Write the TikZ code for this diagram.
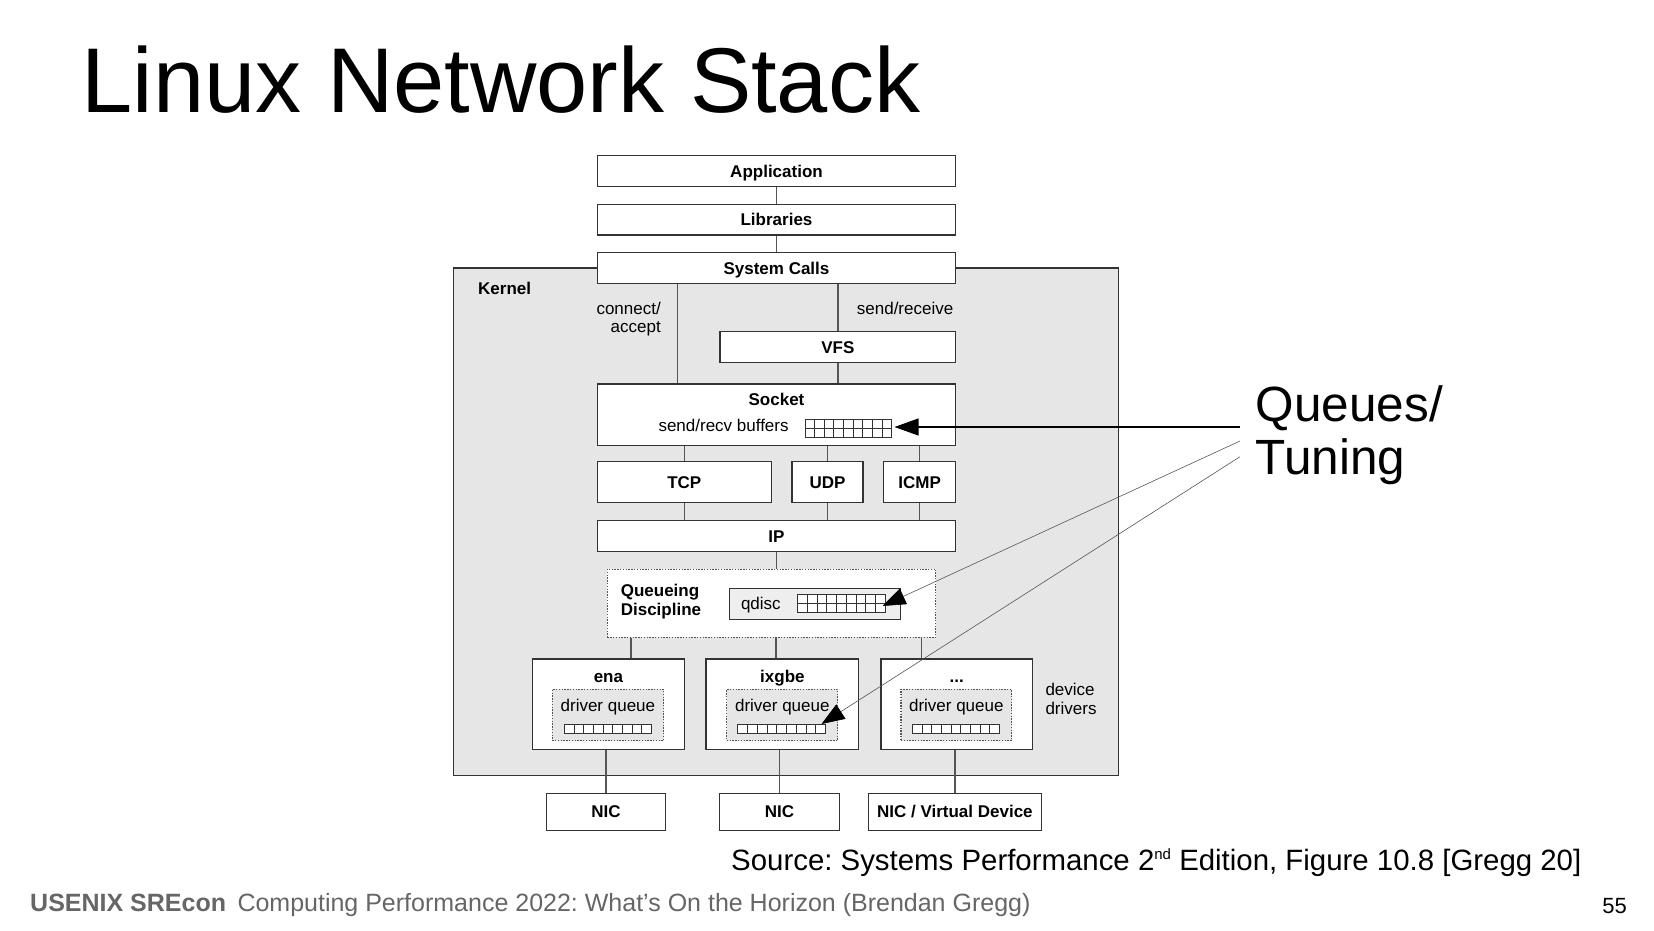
\documentclass[tikz,border=0pt]{standalone}
\usepackage{fontspec}
\setmainfont{Liberation Sans}
\usetikzlibrary{arrows.meta}
\definecolor{kgray}{HTML}{E6E6E6}
\definecolor{qgray}{HTML}{EEEEEE}
\definecolor{bordc}{HTML}{333333}
\definecolor{linec}{HTML}{555555}
\definecolor{footc}{HTML}{666666}
\newcommand\boxfont{\bfseries\fontsize{17}{18.5}\selectfont}
\newcommand\regfont{\fontsize{17}{18.7}\selectfont}
\newcommand\qgrid[5]{%
  \fill[white] (#1,#2) rectangle (#3,#4);
  \foreach \k in {1,...,8} \draw[gridline] ({#1+\k*(#3-#1)/9},#2) -- ({#1+\k*(#3-#1)/9},#4);
  \ifnum#5=2 \draw[gridline] (#1,{(#2+#4)/2}) -- (#3,{(#2+#4)/2});\fi
  \draw[gridline] (#1,#2) rectangle (#3,#4);
}
\frenchspacing
\begin{document}
\begin{tikzpicture}[x=1pt,y=-1pt,
  box/.style={draw=bordc, fill=white, line width=1.3pt, inner sep=0pt, font=\boxfont, text height=12.2pt, text depth=0pt},
  kernelbox/.style={draw=bordc, fill=kgray, line width=1.3pt, inner sep=0pt},
  dotbox/.style={draw=linec, line width=1.1pt, dash pattern=on 1.4pt off 1.4pt, inner sep=0pt},
  conn/.style={draw=linec, line width=1.3pt},
  gridline/.style={draw=bordc, line width=0.9pt},
  lbl/.style={inner sep=0pt, font=\boxfont},
  txt/.style={inner sep=0pt, font=\regfont},
  harrow/.style={draw=black, line width=1.1pt, -{Triangle[length=24pt,width=17pt]}},
  sarrow/.style={draw=linec, line width=0.6pt, -{Triangle[length=23pt,width=17pt,color=black]}}
]
\useasboundingbox (0,0) rectangle (1654,931);
\fill[white] (0,0) rectangle (1654,931);

% title
\node[anchor=base west, inner sep=0pt, font=\fontsize{92}{100}\selectfont] (title) at (81.5,112.7) {Linux Network Stack};

% kernel
\node[kernelbox, minimum width=664.9pt, minimum height=507.7pt] (kernel) at (785.75,521.85) {};
\node[lbl, anchor=base west] (klabel) at (478,294.5) {Kernel};

% top boxes
\node[box, minimum width=358.4pt, minimum height=30.6pt] (app) at (776.5,171) {Application};
\node[box, minimum width=358.4pt, minimum height=30.7pt] (lib) at (776.5,219.7) {Libraries};
\node[box, minimum width=358.4pt, minimum height=30.6pt] (sys) at (776.5,268) {System Calls};

\node[txt, anchor=east, align=right] (conlbl) at (661,319) {connect/\\accept};
\node[txt, anchor=base west] (srlbl) at (856.7,314) {send/receive};

\node[box, minimum width=235.7pt, minimum height=30.6pt] (vfs) at (837.9,347) {VFS};

% socket
\node[box, minimum width=358.4pt, minimum height=61.7pt] (sock) at (776.5,414.9) {};
\node[lbl, anchor=base] (socklbl) at (776.5,405.7) {Socket};
\node[txt, anchor=base west] (buflbl) at (658.3,431) {send/recv buffers};
\qgrid{805}{419.3}{891.7}{437.3}{2}

% protocols
\node[box, minimum width=174pt, minimum height=40.6pt] (tcp) at (684.3,482) {TCP};
\node[box, minimum width=71pt, minimum height=40.6pt] (udp) at (827.5,482) {UDP};
\node[box, minimum width=72.2pt, minimum height=40.6pt] (icmp) at (919.6,482) {ICMP};
\node[box, minimum width=358.4pt, minimum height=31pt] (ip) at (776.5,536.2) {IP};

% queueing discipline
\node[dotbox, fill=white, minimum width=328.5pt, minimum height=68.3pt] (qd) at (771.6,603.2) {};
\node[lbl, anchor=west, align=left] (qdlbl) at (620.6,601.5) {Queueing\\Discipline};
\node[draw=bordc, fill=qgray, line width=1.1pt, inner sep=0pt, minimum width=171.3pt, minimum height=30.7pt] (qdisc) at (815,603.7) {};
\node[txt, anchor=base west] (qdisclbl) at (740.8,609.3) {qdisc};
\qgrid{797.8}{594}{885.1}{612}{2}

% drivers
\node[box, minimum width=151.7pt, minimum height=90.3pt] (ena) at (608.4,704.2) {};
\node[box, minimum width=152.8pt, minimum height=90.3pt] (ixgbe) at (782.4,704.2) {};
\node[box, minimum width=151.4pt, minimum height=90.3pt] (more) at (956.7,704.2) {};
\node[lbl, anchor=base] (enalbl) at (608.4,682) {ena};
\node[lbl, anchor=base] (ixlbl) at (782.4,682) {ixgbe};
\node[lbl, anchor=base] (morelbl) at (956.7,682) {...};

\node[dotbox, fill=kgray, minimum width=111.3pt, minimum height=51.4pt] (dq1) at (607.9,715) {};
\node[dotbox, fill=kgray, minimum width=111pt, minimum height=51.4pt] (dq2) at (782.3,715) {};
\node[dotbox, fill=kgray, minimum width=110.6pt, minimum height=51.4pt] (dq3) at (956.3,715) {};
\node[txt, anchor=base] (dq1lbl) at (607.9,711.7) {driver queue};
\node[txt, anchor=base] (dq2lbl) at (782.3,711.7) {driver queue};
\node[txt, anchor=base] (dq3lbl) at (956.3,711.7) {driver queue};
\qgrid{564.4}{724.3}{651.3}{733}{1}
\qgrid{737.9}{724.3}{825.6}{733}{1}
\qgrid{912.5}{724.3}{999.4}{733}{1}

\node[txt, anchor=west, align=left] (ddlbl) at (1045.3,699) {device\\drivers};

% NICs
\node[box, minimum width=119.5pt, minimum height=36.9pt] (nic1) at (606,811.7) {NIC};
\node[box, minimum width=119.5pt, minimum height=36.9pt] (nic2) at (779.5,811.7) {NIC};
\node[box, minimum width=172.7pt, minimum height=36.9pt] (nic3) at (954.9,811.7) {NIC / Virtual Device};

% connectors
\coordinate (cx) at (677.3,0);
\coordinate (d1) at (631,0);
\coordinate (d2) at (776,0);
\coordinate (d3) at (921.4,0);
\draw[conn] (app.south) -- (lib.north);
\draw[conn] (lib.south) -- (sys.north);
\draw[conn] (sys.south -| cx) -- (sock.north -| cx);
\draw[conn] (sys.south -| vfs.north) -- (vfs.north);
\draw[conn] (vfs.south) -- (vfs.south |- sock.north);
\draw[conn] (tcp.north |- sock.south) -- (tcp.north);
\draw[conn] (udp.north |- sock.south) -- (udp.north);
\draw[conn] (icmp.north |- sock.south) -- (icmp.north);
\draw[conn] (tcp.south) -- (tcp.south |- ip.north);
\draw[conn] (udp.south) -- (udp.south |- ip.north);
\draw[conn] (icmp.south) -- (icmp.south |- ip.north);
\draw[conn] (ip.south) -- (ip.south |- qd.north);
\draw[conn] (qd.south -| d1) -- (ena.north -| d1);
\draw[conn] (qd.south -| d2) -- (ixgbe.north -| d2);
\draw[conn] (qd.south -| d3) -- (more.north -| d3);
\draw[conn] (nic1.north) -- (nic1.north |- ena.south);
\draw[conn] (nic2.north) -- (nic2.north |- ixgbe.south);
\draw[conn] (nic3.north) -- (nic3.north |- more.south);

% queues / tuning
\node[anchor=west, inner sep=0pt, align=left, font=\fontsize{49.5}{52.5}\selectfont] (qlabel) at (1255.5,435.3) {Queues/\\Tuning};
\coordinate (qt1) at (1240,427);
\coordinate (qt2) at (1240,441);
\coordinate (qt3) at (1240,456.7);
\coordinate (tip1) at (894.5,427);
\coordinate (tip2) at (882.5,606);
\coordinate (tip3) at (821.5,724);
\draw[harrow] (qt1) -- (tip1);
\draw[sarrow] (qt2) -- (tip2);
\draw[sarrow] (qt3) -- (tip3);

% source and footer
\node[anchor=base west, inner sep=0pt, font=\fontsize{29.4}{34}\selectfont] (src) at (731,870) {Source: Systems Performance 2\raisebox{10.5pt}{\fontsize{15}{16}\selectfont nd} Edition, Figure 10.8 [Gregg 20]};
\node[anchor=base west, inner sep=0pt, text=footc, font=\bfseries\fontsize{25}{28}\selectfont] (usenix) at (30,911.7) {USENIX SREcon};
\node[anchor=base west, inner sep=0pt, text=footc, font=\fontsize{25}{28}\selectfont] (ftitle) at (237.3,911.7) {Computing Performance 2022: What’s On the Horizon (Brendan Gregg)};
\node[anchor=base east, inner sep=0pt, font=\fontsize{22}{26}\selectfont] (pnum) at (1627,913) {55};
\end{tikzpicture}
\end{document}
